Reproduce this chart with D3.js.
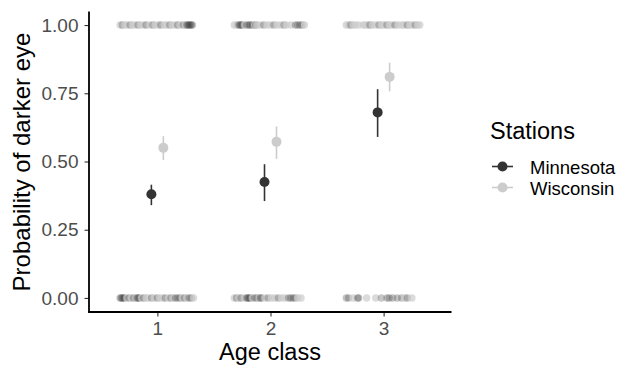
<!DOCTYPE html>
<html><head><meta charset="utf-8">
<script src="https://cdn.jsdelivr.net/npm/d3@7"></script>
<style>body{margin:0;background:#fff}svg{display:block}</style>
</head><body>
<svg id="c" width="626" height="375"></svg>
<script>
// ---- data ----
const ageClasses = ["1","2","3"];
const stations = ["Minnesota","Wisconsin"];
const yTicks = [0, 0.25, 0.5, 0.75, 1];
// means and intervals per age class
const meanMN = [0.38, 0.425, 0.68];
const lowMN  = [0.34, 0.355, 0.59];
const highMN = [0.415, 0.49, 0.765];
const meanWI = [0.55, 0.572, 0.81];
const lowWI  = [0.505, 0.51, 0.757];
const highWI = [0.593, 0.628, 0.862];
// raw observations (jittered x in age-class units), y = 1 or 0, station code M/W
const obsX1 = [0.67,0.69,0.71,0.73,0.76,0.78,0.80,0.83,0.85,0.88,0.90,0.93,0.96,0.98,1.01,1.03,1.06,1.08,1.11,1.13,1.16,1.18,1.20,1.23,1.25,1.26,1.27,1.28,1.29,1.30,1.31];
const obsS1 = "WMWWMWWMWWMWMWWMWWMWWMWMWMMMMMM";
const obsX2 = [1.68,1.70,1.72,1.73,1.74,1.75,1.77,1.79,1.81,1.82,1.84,1.86,1.87,1.88,1.91,1.94,1.97,2.00,2.03,2.06,2.09,2.12,2.14,2.18,2.22,2.24,2.26,2.28,2.30];
const obsS2 = "WWMMMMWMMMMWMWWMWWMWWMWWMMMMW";
const obsX3 = [2.67,2.69,2.71,2.73,2.75,2.78,2.82,2.84,2.86,2.88,2.90,2.93,2.96,2.98,3.00,3.03,3.05,3.07,3.10,3.13,3.16,3.18,3.21,3.23,3.25,3.28,3.30,3.32];
const obsS3 = "WWMWWWWWWMWWMWWMWWMWWWMWWMWW";
const obsX0_1 = [0.67,0.68,0.69,0.70,0.71,0.73,0.75,0.77,0.79,0.81,0.82,0.83,0.84,0.86,0.88,0.90,0.92,0.95,0.97,1.00,1.02,1.05,1.07,1.10,1.12,1.14,1.16,1.18,1.20,1.22,1.24,1.26,1.28,1.30,1.32];
const obsS0_1 = "MMMMMWMWMWMMMWMWWMWMWWMWMWMMMWMWMMW";
const obsX0_2 = [1.68,1.70,1.72,1.74,1.77,1.79,1.80,1.81,1.82,1.84,1.86,1.88,1.90,1.91,1.92,1.95,1.98,2.01,2.04,2.07,2.10,2.13,2.16,2.18,2.20,2.22,2.24,2.27];
const obsS0_2 = "WMWMWMMMMWMMWMMWMWWMWWMMMMWW";
const obsX0_3 = [2.67,2.69,2.73,2.77,2.78,2.85,2.93,2.98,3.03,3.05,3.08,3.12,3.16,3.19,3.21,3.25];
const obsS0_3 = "MMWMMWWMMMMMMWMW";

// ---- layout ----
const svg = d3.select("#c");
const x = d3.scaleLinear().domain([0.4, 3.6]).range([89.5, 451.5]);
const y = d3.scaleLinear().domain([-0.05, 1.05]).range([311.6, 11.4]);
const col = {Minnesota:"#333333", Wisconsin:"#cccccc"};
const dodge = 0.053;
const font = "'Liberation Sans', Arial, sans-serif";

// raw observations
const obs = [];
function addObs(xs, ss, val){ xs.forEach((v,i)=>obs.push({x:v, y:val, s: ss[i]==="M"?"Minnesota":"Wisconsin"})); }
addObs(obsX1,obsS1,1); addObs(obsX2,obsS2,1); addObs(obsX3,obsS3,1);
addObs(obsX0_1,obsS0_1,0); addObs(obsX0_2,obsS0_2,0); addObs(obsX0_3,obsS0_3,0);
svg.append("g").selectAll("circle").data(obs).join("circle")
  .attr("cx", d=>x(d.x)).attr("cy", d=>y(d.y)).attr("r", 3.7)
  .attr("fill", d=>col[d.s]).attr("fill-opacity", d=>d.s==="Minnesota"?0.28:0.7);

// summary point ranges
const summ = [];
ageClasses.forEach((a,i)=>{
  summ.push({a:+a - dodge, m:meanMN[i], lo:lowMN[i], hi:highMN[i], s:"Minnesota"});
  summ.push({a:+a + dodge, m:meanWI[i], lo:lowWI[i], hi:highWI[i], s:"Wisconsin"});
});
const g = svg.append("g");
g.selectAll("line").data(summ).join("line")
  .attr("x1", d=>x(d.a)).attr("x2", d=>x(d.a))
  .attr("y1", d=>y(d.lo)).attr("y2", d=>y(d.hi))
  .attr("stroke", d=>col[d.s]).attr("stroke-width", 1.6);
g.selectAll("circle").data(summ).join("circle")
  .attr("cx", d=>x(d.a)).attr("cy", d=>y(d.m)).attr("r", 5)
  .attr("fill", d=>col[d.s]);

// axes
const yAxis = d3.axisLeft(y).tickValues(yTicks).tickFormat(d3.format(".2f")).tickSize(4.5).tickPadding(6);
const xAxis = d3.axisBottom(x).tickValues(ageClasses.map(Number)).tickFormat(d=>d).tickSize(4.5).tickPadding(5);
const ya = svg.append("g").attr("transform","translate(89,0)").call(yAxis);
const xa = svg.append("g").attr("transform","translate(0,312)").call(xAxis);
[ya, xa].forEach(a=>{
  a.select(".domain").remove();
  a.selectAll(".tick line").attr("stroke","#333").attr("stroke-width",1.1);
  a.selectAll(".tick text").attr("fill","#4d4d4d").style("font-family",font).style("font-size","19px");
});
svg.append("line").attr("x1",89).attr("x2",89).attr("y1",11.4).attr("y2",312.5).attr("stroke","#000").attr("stroke-width",1.8);
svg.append("line").attr("x1",88.1).attr("x2",451.5).attr("y1",312).attr("y2",312).attr("stroke","#000").attr("stroke-width",1.8);

// titles
svg.append("text").attr("x", 270).attr("y", 360).attr("text-anchor","middle")
  .style("font-family",font).style("font-size","23.5px").attr("fill","#000").text("Age class");
svg.append("text").attr("transform","translate(29.5,162) rotate(-90)").attr("text-anchor","middle")
  .style("font-family",font).style("font-size","24px").attr("fill","#000").text("Probability of darker eye");

// legend
const lg = svg.append("g");
lg.append("text").attr("x",490).attr("y",139).style("font-family",font).style("font-size","23.5px").text("Stations");
stations.forEach((s,i)=>{
  const cy = 166.5 + i*21;
  lg.append("line").attr("x1",492).attr("x2",513).attr("y1",cy).attr("y2",cy).attr("stroke",col[s]).attr("stroke-width",1.6);
  lg.append("circle").attr("cx",502.5).attr("cy",cy).attr("r",5).attr("fill",col[s]);
  lg.append("text").attr("x",530).attr("y",cy+7).style("font-family",font).style("font-size","18.5px").attr("fill","#000").text(s);
});
</script>
</body></html>
